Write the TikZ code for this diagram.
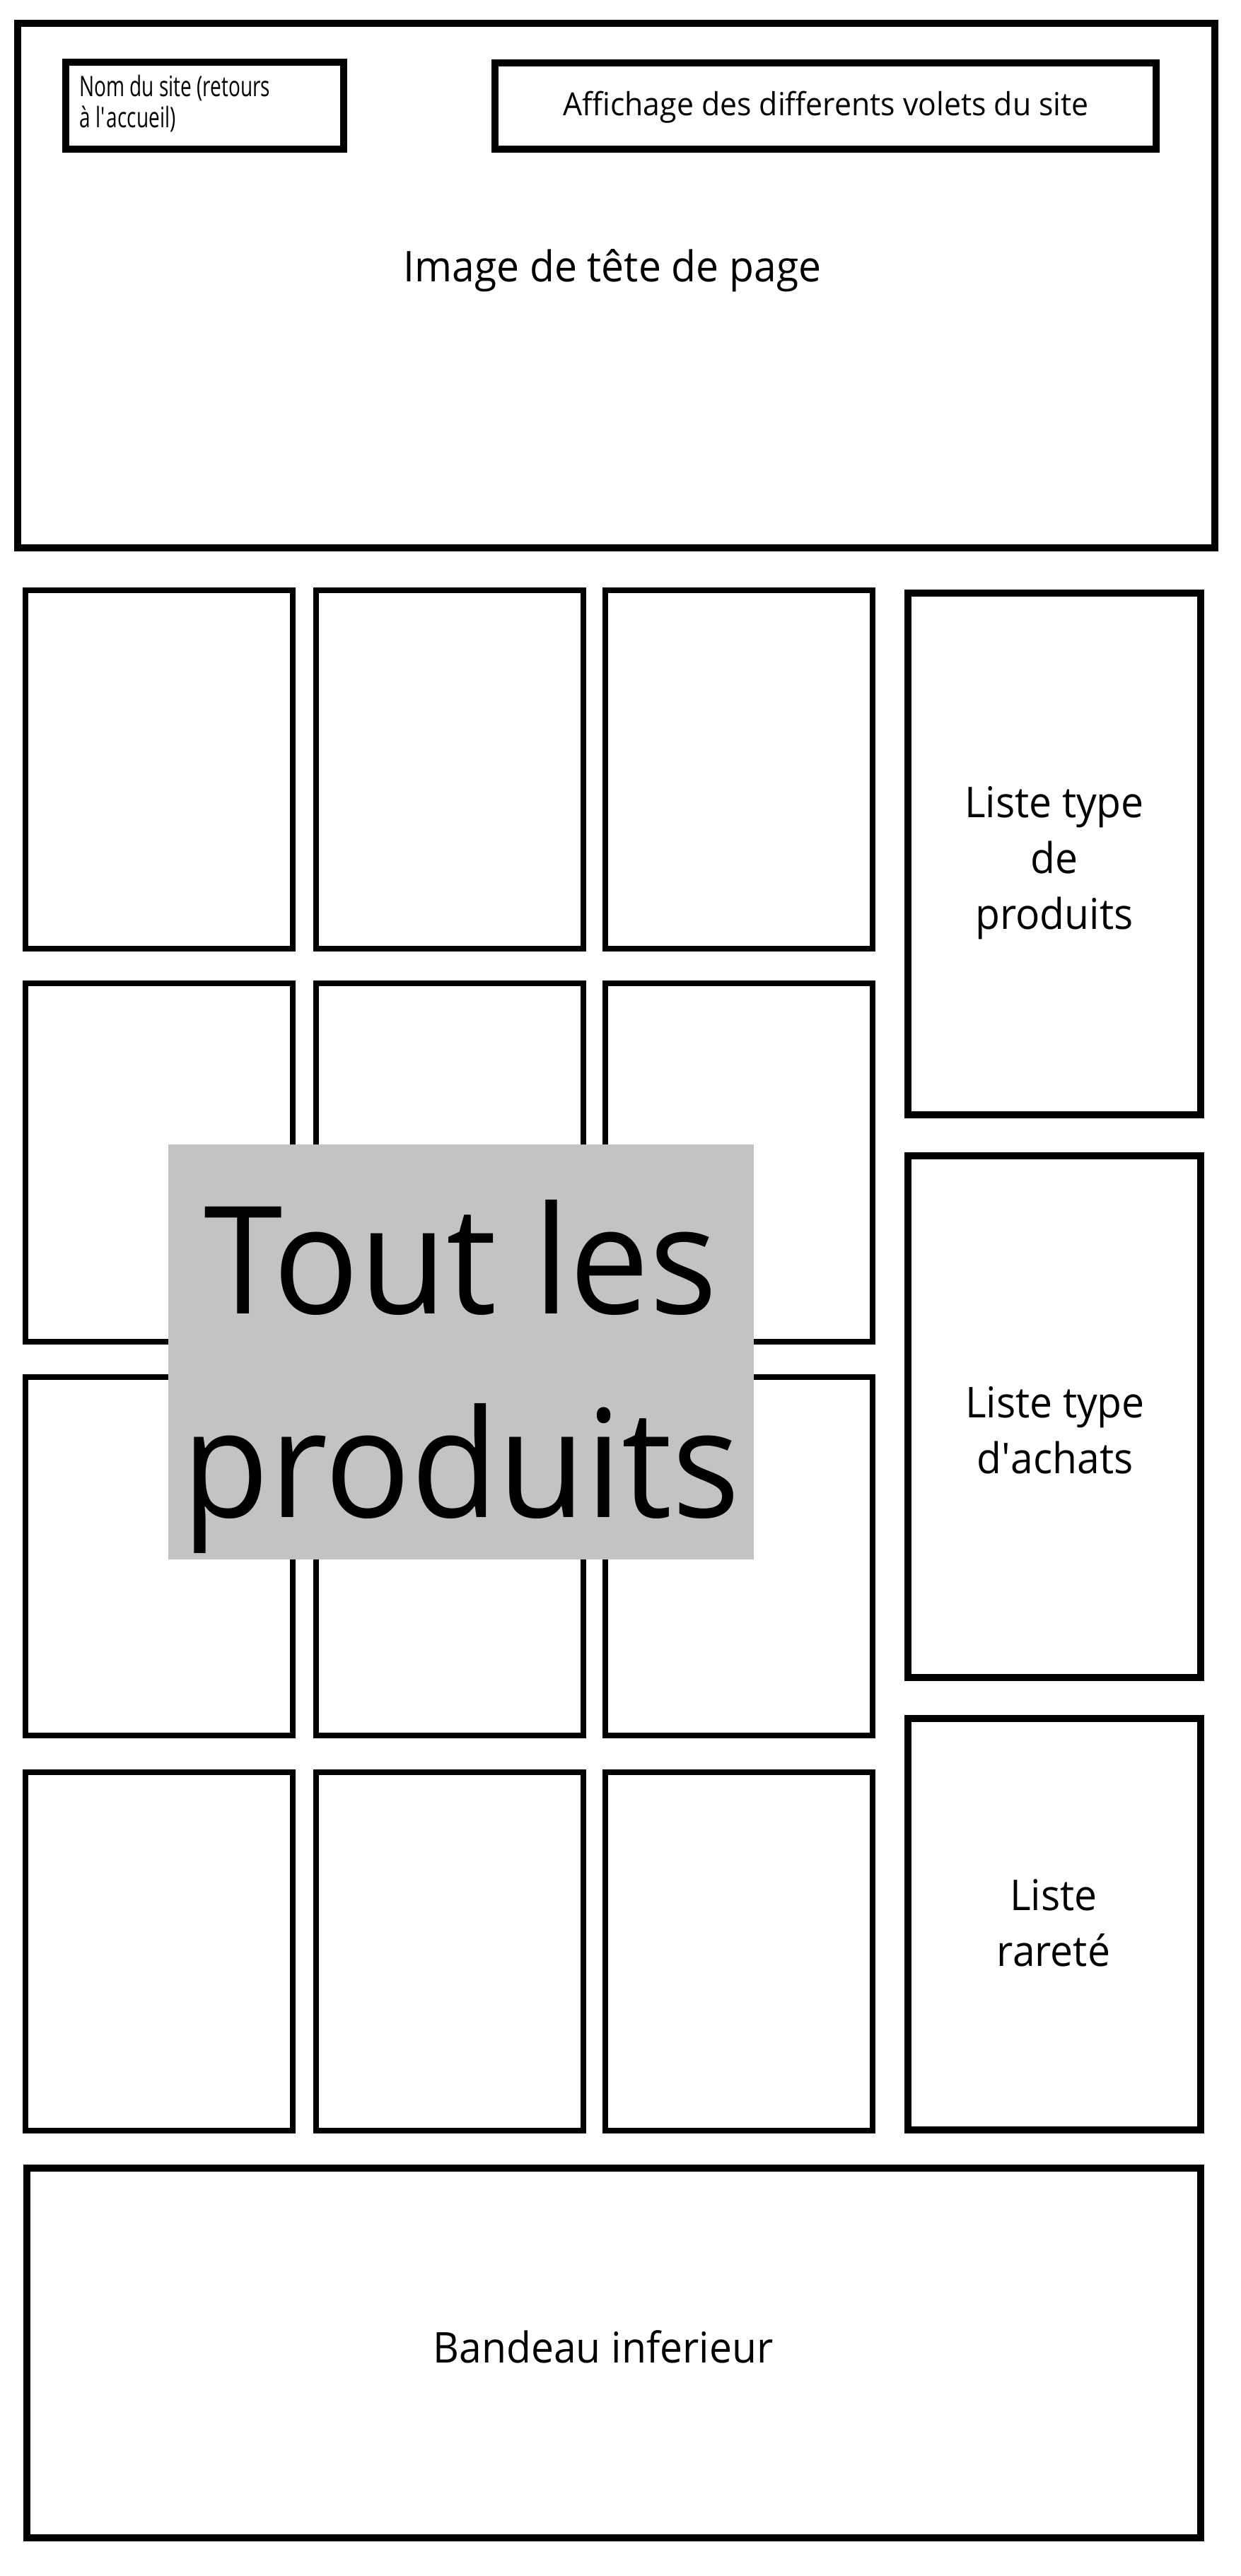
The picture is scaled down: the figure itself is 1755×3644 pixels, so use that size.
\documentclass[tikz,border=0pt]{standalone}
\usepackage{fontspec}
\setmainfont{Open Sans}[FakeStretch=0.95]
\newfontfamily\narrowfont{Open Sans}[FakeStretch=0.70]
\usetikzlibrary{calc}
\definecolor{greyfill}{RGB}{195,195,195}
\tikzset{
    frame/.style={line width=10pt, line join=miter},
    cell/.style={line width=8pt, line join=miter},
    lab/.style={
        font=\fontsize{60}{79}\selectfont, align=center
    },
    smalllab/.style={
        font=\fontsize{45}{56}\selectfont
    },
    biglab/.style={
        font=\fontsize{212}{288}\selectfont, align=center
    }
}

\begin{document}
\begin{tikzpicture}[x=1pt,y=-1pt]

% --- page size (pixels of the reference) ---
    \useasboundingbox (0,0) rectangle (1755,3644);

% header block
    \draw[frame] (25,33) rectangle (1718,775);
    \draw[frame] (93,88) rectangle (486,211);
    \draw[frame] (700,89) rectangle (1635,211);
    \node[inner sep=0pt, anchor=north west, align=left,
          font=\narrowfont\fontsize{40}{44}\selectfont] (nomsite) at (112,106)
          {Nom du site (retours\\ à l\textquotesingle accueil)};
    \node[smalllab, anchor=base] (volets) at (1168,163)
          {Affichage des differents volets du site};
    \node[lab, anchor=base] (entete) at (866,398) {Image de tête de page};

% product grid (4 rows x 3 columns)
    \foreach \r in {835,1391,1948,2507}
      \foreach \c in {36,447,856}
        \draw[cell] (\c,\r) rectangle ++(378,507);

% side lists
    \draw[frame] (1284,839) rectangle (1698,1577);
    \draw[frame] (1284,1635) rectangle (1698,2373);
    \draw[frame] (1284,2431) rectangle (1698,3013);
    \node[lab] (typeprod) at (1491,1221) {Liste type\\de\\produits};
    \node[lab] (typeachat) at (1492,2023) {Liste type\\d\textquotesingle achats};
    \node[lab] (rarete) at (1490,2720) {Liste\\rareté};

% grey banner over the grid
    \fill[greyfill] (238,1619) rectangle (1066,2206);
    \node[biglab] (tous) at (652,1947) {Tout les\\produits};

% footer
    \draw[frame] (38,3067) rectangle (1698,3590);
    \node[lab, anchor=base] (bandeau) at (853,3342) {Bandeau inferieur};

\end{tikzpicture}
\end{document}
